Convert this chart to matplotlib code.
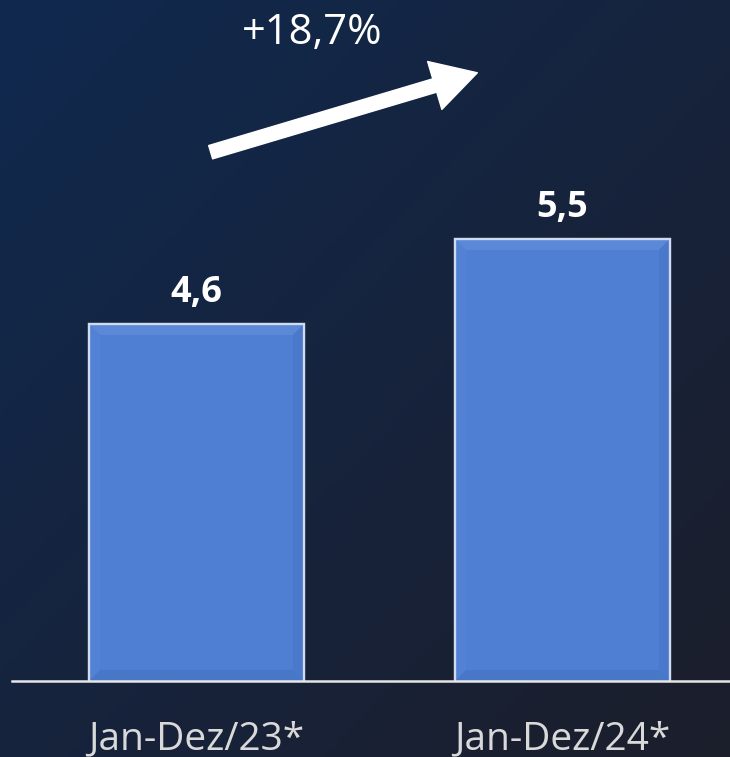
"""Bar chart: Jan-Dez/23* vs Jan-Dez/24*, dark gradient background."""

import matplotlib.pyplot as plt
import numpy as np
from matplotlib.patches import FancyArrowPatch, Polygon

categories = ["Jan-Dez/23*", "Jan-Dez/24*"]
values = [4.6, 5.5]
value_labels = ["4,6", "5,5"]
growth_label = "+18,7%"

W, H, DPI = 730, 757, 100
BASE_PX = 681  # baseline, pixels from top
Y0 = 0.82      # value at the baseline

plt.rcParams["font.family"] = ["Open Sans", "DejaVu Sans"]

fig = plt.figure(figsize=(W / DPI, H / DPI), dpi=DPI)

# Background gradient (top-left navy -> bottom-right dark slate)
bg = fig.add_axes([0, 0, 1, 1], zorder=0)
xx, yy = np.meshgrid(np.linspace(0, 1, 200), np.linspace(0, 1, 200))
t = np.clip((xx + yy) / 2, 0, 1)[..., None]
c0 = np.array([0x10, 0x29, 0x4f]) / 255
c1 = np.array([0x1c, 0x1e, 0x2b]) / 255
bg.imshow(c0 * (1 - t) + c1 * t, extent=[0, 1, 0, 1], aspect="auto")
bg.axis("off")

# Main axes sits on the baseline, reaches the top of the figure
ax = fig.add_axes([0, (H - BASE_PX) / H, 1, BASE_PX / H], zorder=1)
ax.patch.set_alpha(0)
x = np.arange(len(categories))
ax.set_xlim(-0.537, 1.458)
ax.set_ylim(Y0, 8.03)

bars = ax.bar(x, values, width=0.587, color="#4f7fd3",
              edgecolor="#d0dbf0", linewidth=1.6, zorder=2)

# soft bevel inside each bar
px_x = W / (1.458 + 0.537)
px_y = BASE_PX / (8.03 - Y0)
bv = 11
for b in bars:
    x0, x1 = b.get_x(), b.get_x() + b.get_width()
    y1 = b.get_height()
    dx, dy = bv / px_x, bv / px_y
    edges = [
        ([(x0, y1), (x1, y1), (x1 - dx, y1 - dy), (x0 + dx, y1 - dy)], "#6a93dc"),
        ([(x0, Y0), (x0, y1), (x0 + dx, y1 - dy), (x0 + dx, Y0 + dy)], "#5786d6"),
        ([(x1, Y0), (x1, y1), (x1 - dx, y1 - dy), (x1 - dx, Y0 + dy)], "#4774c4"),
        ([(x0, Y0), (x1, Y0), (x1 - dx, Y0 + dy), (x0 + dx, Y0 + dy)], "#4370bf"),
    ]
    for pts, col in edges:
        ax.add_patch(Polygon(pts, closed=True, facecolor=col, edgecolor="none",
                             alpha=0.5, zorder=2.1))
    ax.bar(b.get_x() + b.get_width() / 2, y1, width=b.get_width(),
           color="none", edgecolor="#d0dbf0", linewidth=1.6, zorder=2.2)

for b, lab in zip(bars, value_labels):
    ax.annotate(lab, (b.get_x() + b.get_width() / 2, b.get_height()),
                xytext=(0, 16), textcoords="offset points",
                ha="center", va="baseline", color="white",
                fontsize=26, fontweight="bold")

ax.axhline(Y0, xmin=12 / W, xmax=1, color="#e6e6e6", linewidth=1.8,
           clip_on=False, zorder=3)

for xi, cat in zip(x, categories):
    ax.annotate(cat, (xi, Y0), xytext=(0, -42), textcoords="offset points",
                ha="center", va="center", color="#d9d9d9", fontsize=28,
                annotation_clip=False)

ax.axis("off")

# Growth arrow and label (figure pixel coords)
arrow = FancyArrowPatch((208 / W, 1 - 153 / H), (480 / W, 1 - 72 / H),
                        transform=fig.transFigure,
                        arrowstyle="simple,head_length=1.6,head_width=1.8,tail_width=0.5",
                        mutation_scale=20, color="white", zorder=4)
fig.patches.append(arrow)
fig.text(312 / W, 1 - 33 / H, growth_label, ha="center", va="center",
         color="white", fontsize=30)

fig.savefig("out.png", dpi=DPI)
